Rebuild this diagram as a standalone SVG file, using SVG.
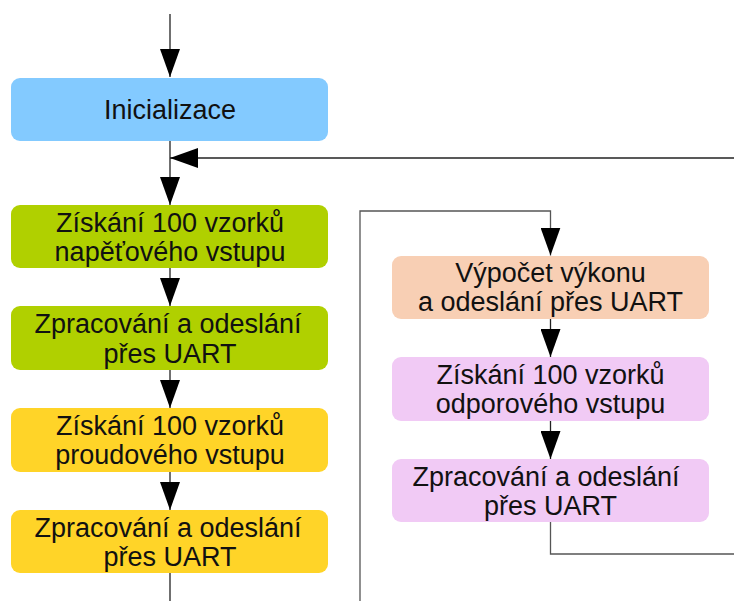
<svg xmlns="http://www.w3.org/2000/svg" width="734" height="601" viewBox="0 0 734 601">
<defs>
<marker id="ah" markerUnits="userSpaceOnUse" markerWidth="28" markerHeight="20" viewBox="0 0 28 20" refX="28" refY="10" orient="auto">
<path d="M0,0 L28,10 L0,20 Z" fill="#000"/>
</marker>
<style>
.n text{font-family:"Liberation Sans",Arial,sans-serif;font-size:27px;fill:#111;text-anchor:middle}
.c{fill:none;stroke:#222;stroke-width:1.3}
.g{fill:none;stroke:#555;stroke-width:1.3}
</style>
</defs>
<rect width="734" height="601" fill="#fff"/>
<g id="connectors">
<path class="c" d="M170,14 V77" marker-end="url(#ah)"/>
<path class="c" d="M170,141 V205" marker-end="url(#ah)"/>
<path class="c" d="M734,158 H170" marker-end="url(#ah)"/>
<path class="c" d="M170,268 V306" marker-end="url(#ah)"/>
<path class="c" d="M170,370 V408" marker-end="url(#ah)"/>
<path class="c" d="M170,472 V510" marker-end="url(#ah)"/>
<path class="c" d="M170,573 V601"/>
<path class="g" d="M360,601 V211 H550.5 V255.5" marker-end="url(#ah)"/>
<path class="c" d="M550.5,319 V357" marker-end="url(#ah)"/>
<path class="c" d="M550.5,421 V459" marker-end="url(#ah)"/>
<path class="g" d="M550.5,522 V554 H734"/>
</g>
<g id="n1" class="n"><rect x="11" y="78" width="317" height="63" rx="9" fill="#83caff"/><text x="170" y="118.5">Inicializace</text></g>
<g id="n2" class="n"><rect x="11" y="205" width="317" height="63" rx="9" fill="#b0d000"/><text x="170" y="231.5">Získání 100 vzorků</text><text x="170" y="260.5">napěťového vstupu</text></g>
<g id="n3" class="n"><rect x="11" y="306" width="317" height="64" rx="9" fill="#b0d000"/><text x="168" y="332.5">Zpracování a odeslání</text><text x="170" y="362.5">přes UART</text></g>
<g id="n4" class="n"><rect x="11" y="408" width="317" height="64" rx="9" fill="#ffd428"/><text x="170" y="434.5">Získání 100 vzorků</text><text x="170" y="464">proudového vstupu</text></g>
<g id="n5" class="n"><rect x="11" y="510" width="317" height="63" rx="9" fill="#ffd428"/><text x="168" y="536.5">Zpracování a odeslání</text><text x="170" y="565.5">přes UART</text></g>
<g id="n6" class="n"><rect x="392" y="256" width="317" height="63" rx="9" fill="#f8cfb4"/><text x="550.5" y="282">Výpočet výkonu</text><text x="550.5" y="311">a odeslání přes UART</text></g>
<g id="n7" class="n"><rect x="392" y="357" width="317" height="64" rx="9" fill="#f1caf5"/><text x="550.5" y="383.5">Získání 100 vzorků</text><text x="550.5" y="412.5">odporového vstupu</text></g>
<g id="n8" class="n"><rect x="392" y="459" width="317" height="63" rx="9" fill="#f1caf5"/><text x="546" y="485.5">Zpracování a odeslání</text><text x="550.5" y="514.5">přes UART</text></g>
</svg>
